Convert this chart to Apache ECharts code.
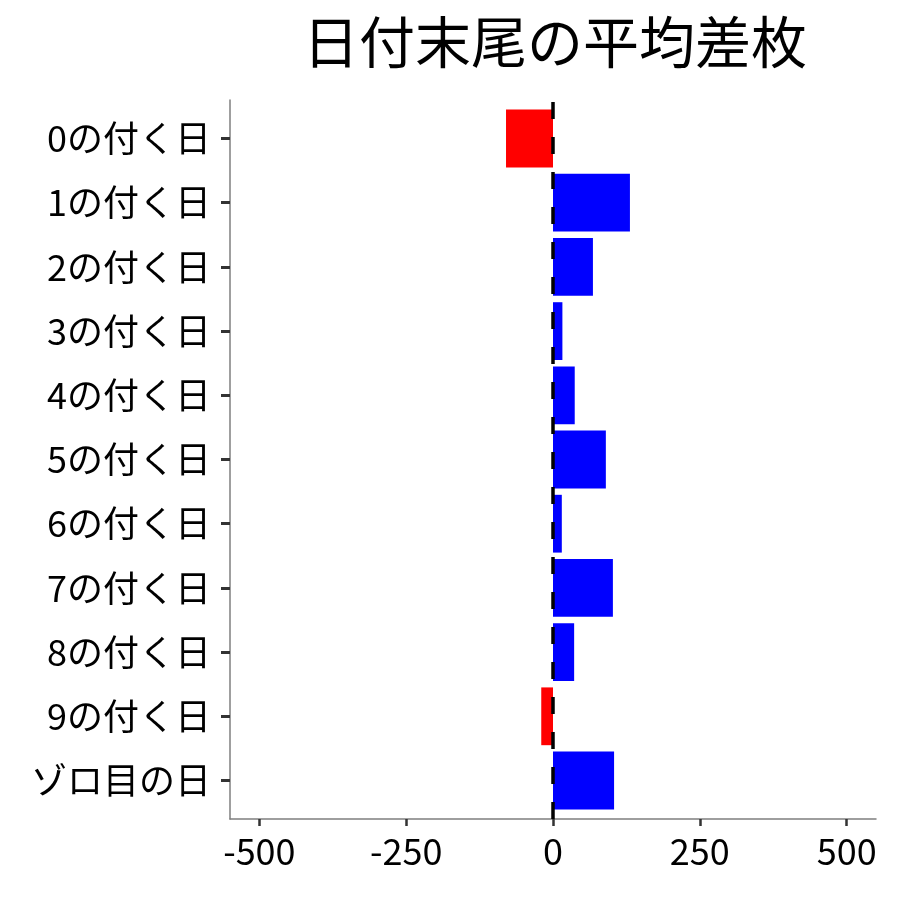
<!DOCTYPE html>
<html>
<head>
<meta charset="utf-8">
<script src="https://cdn.jsdelivr.net/npm/echarts@6/dist/echarts.min.js"></script>
<style>html,body{margin:0;padding:0;background:#fff}#c{width:900px;height:900px}</style>
</head>
<body>
<div id="c"></div>
<script>
const categories = ['0の付く日','1の付く日','2の付く日','3の付く日','4の付く日','5の付く日','6の付く日','7の付く日','8の付く日','9の付く日','ゾロ目の日'];
const values = [-80, 131, 68, 16, 37, 90, 15, 102, 36, -20, 104];
const xTicks = [-500, -250, 0, 250, 500];
const titleText = '日付末尾の平均差枚';

const FONT = '"Noto Sans CJK JP", "Noto Sans", sans-serif';
const chart = echarts.init(document.getElementById('c'));
chart.setOption({
  animation: false,
  backgroundColor: '#fff',
  title: {
    text: titleText, left: 550, top: 9, textAlign: 'center',
    textStyle: { fontFamily: FONT, fontSize: 56, fontWeight: 'normal', color: '#000' }
  },
  grid: [
    { left: 230, right: 24, top: 100, bottom: 81 },
    { left: 230, right: 24, top: 106.4, bottom: 87.4 }
  ],
  xAxis: [
    {
      gridIndex: 0, type: 'value', min: -550, max: 550,
      axisLine: { show: true, onZero: false, lineStyle: { color: '#7f7f7f', width: 1.5 } },
      axisTick: { show: true, customValues: xTicks, length: 7, lineStyle: { color: '#333', width: 2.5 } },
      axisLabel: { customValues: xTicks, margin: 14, fontFamily: FONT, fontSize: 36, color: '#000' },
      splitLine: { show: false }
    },
    { gridIndex: 1, type: 'value', min: -550, max: 550, show: false }
  ],
  yAxis: [
    {
      gridIndex: 0, type: 'value', min: 0, max: 1,
      axisLine: { show: true, onZero: false, lineStyle: { color: '#7f7f7f', width: 1.5 } },
      axisTick: { show: false }, axisLabel: { show: false }, splitLine: { show: false }
    },
    {
      gridIndex: 1, type: 'category', data: categories, inverse: true,
      axisLine: { show: false, onZero: false },
      axisTick: { show: true, alignWithLabel: true, length: 9, lineStyle: { color: '#333', width: 3 } },
      axisLabel: { margin: 19, fontFamily: FONT, fontSize: 36, color: '#000' }
    }
  ],
  series: [
    {
      type: 'bar', xAxisIndex: 1, yAxisIndex: 1, data: values,
      barCategoryGap: '10%',
      itemStyle: { color: p => p.value < 0 ? '#ff0000' : '#0000ff' },
      z: 2
    },
    {
      type: 'line', xAxisIndex: 0, yAxisIndex: 0, data: [], z: 5,
      markLine: {
        symbol: 'none', silent: true, label: { show: false },
        lineStyle: { color: '#000', type: [17, 18], width: 3.5 },
        data: [{ xAxis: 0 }]
      }
    }
  ]
});
</script>
</body>
</html>
